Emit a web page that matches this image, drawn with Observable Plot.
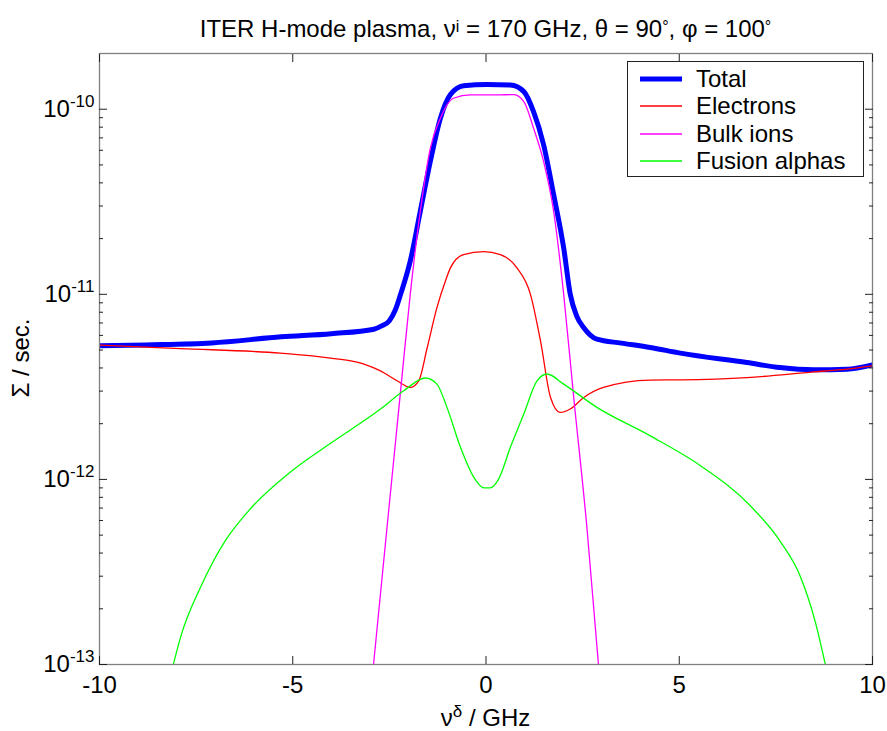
<!DOCTYPE html>
<html>
<head>
<meta charset="utf-8">
<script src="https://cdn.jsdelivr.net/npm/d3@7"></script>
<script src="https://cdn.jsdelivr.net/npm/@observablehq/plot@0.6"></script>
<style>
  html, body { margin: 0; padding: 0; background: #fff; }
  #wrap { position: relative; width: 887px; height: 731px; font-family: "Liberation Sans", Arial, Helvetica, sans-serif; color: #000; }
  #title { position: absolute; left: 99px; width: 773px; top: 15px; text-align: center; font-size: 24px; line-height: 28px; white-space: nowrap; }
  #title sup { font-size: 16px; position: relative; top: -5px; vertical-align: baseline; line-height: 0; }
  #legend { position: absolute; left: 627px; top: 61px; width: 237px; height: 116px; box-sizing: border-box; border: 1.3px solid #222; background: #fff; }
  .row { position: absolute; left: 0; height: 28px; display: flex; align-items: center; }
  .row svg { margin-left: 12px; }
  .row span { margin-left: 14px; font-size: 24px; }
  #chart svg { display: block; }
</style>
</head>
<body>
<div id="wrap">
  <div id="chart"></div>
  <div id="title">ITER H-mode plasma, ν<sup>i</sup> = 170 GHz, θ = 90<sup>°</sup>, φ = 100<sup>°</sup></div>
  <div id="legend"></div>
</div>
<script>
// ---- data (x in GHz, y in 1/sec) ----
const totalX = [-10, -8.8, -7.1, -5.3, -4.0, -2.9, -2.7, -2.5, -2.35, -2.21, -1.96, -1.70, -1.44, -1.18, -0.92, -0.58, 0.03, 0.63, 0.98, 1.23, 1.49, 1.75, 2.01, 2.18, 2.35, 2.53, 2.87, 3.5, 4.25, 5.03, 6.75, 7.61, 8.48, 9.34, 10];
const totalY = [5.27e-12, 5.33e-12, 5.46e-12, 5.89e-12, 6.13e-12, 6.48e-12, 6.75e-12, 7.2e-12, 8.2e-12, 1.0e-11, 1.51e-11, 2.81e-11, 5.23e-11, 8.94e-11, 1.20e-10, 1.34e-10, 1.36e-10, 1.35e-10, 1.245e-10, 9.7e-11, 6.43e-11, 3.46e-11, 1.78e-11, 1.0e-11, 7.6e-12, 6.6e-12, 5.72e-12, 5.45e-12, 5.16e-12, 4.81e-12, 4.28e-12, 4.02e-12, 3.91e-12, 3.94e-12, 4.16e-12];

const electronsX = [-10, -7.9, -5.32, -4.02, -3.16, -2.73, -2.3, -1.96, -1.74, -1.52, -1.27, -1.05, -0.92, -0.58, -0.06, 0.37, 0.80, 1.15, 1.41, 1.67, 1.92, 2.18, 2.53, 3.04, 4.25, 5.03, 6.75, 8.48, 9.34, 10];
const electronsY = [5.31e-12, 5.09e-12, 4.81e-12, 4.52e-12, 4.20e-12, 3.86e-12, 3.41e-12, 3.14e-12, 3.41e-12, 5.16e-12, 8.47e-12, 1.18e-11, 1.39e-11, 1.64e-11, 1.70e-11, 1.64e-11, 1.39e-11, 1.0e-11, 5.60e-12, 2.77e-12, 2.30e-12, 2.40e-12, 2.77e-12, 3.14e-12, 3.44e-12, 3.45e-12, 3.55e-12, 3.81e-12, 3.94e-12, 4.11e-12];

const ionsX = [-2.91, -2.56, -2.21, -1.96, -1.70, -1.44, -1.18, -0.84, -0.40, 0.29, 0.72, 0.98, 1.23, 1.49, 1.75, 2.01, 2.27, 2.61, 2.91];
const ionsY = [1e-13, 5.53e-13, 3.01e-12, 1.0e-11, 2.81e-11, 6.17e-11, 8.94e-11, 1.146e-10, 1.195e-10, 1.195e-10, 1.2e-10, 1.10e-10, 7.9e-11, 5.23e-11, 2.81e-11, 1.0e-11, 2.77e-12, 5.53e-13, 1e-13];

const alphasX = [-8.09, -7.9, -7.38, -6.74, -6.1, -5.06, -4.02, -2.73, -2.13, -1.57, -1.27, -1.01, -0.66, -0.32, -0.06, 0.11, 0.33, 0.63, 0.98, 1.32, 1.58, 2.01, 2.87, 4.25, 5.54, 6.84, 7.62, 8.13, 8.52, 8.78];
const alphasY = [1e-13, 1.41e-13, 2.63e-13, 4.68e-13, 6.92e-13, 1.096e-12, 1.567e-12, 2.40e-12, 3.01e-12, 3.53e-12, 3.27e-12, 2.45e-12, 1.49e-12, 1.03e-12, 9.01e-13, 9.01e-13, 1.007e-12, 1.49e-12, 2.26e-12, 3.41e-12, 3.71e-12, 3.27e-12, 2.45e-12, 1.72e-12, 1.19e-12, 7.2e-13, 4.6e-13, 3.0e-13, 1.7e-13, 1e-13];

const seriesNames = ["Total", "Electrons", "Bulk ions", "Fusion alphas"];
const seriesColors = ["#0000ff", "#ff0000", "#ff00ff", "#00ff00"];
const seriesWidths = [5, 1.3, 1.3, 1.3];
const seriesXs = [totalX, electronsX, ionsX, alphasX];
const seriesYs = [totalY, electronsY, ionsY, alphasY];

const xTicks = [-10, -5, 0, 5, 10];
const yMajorTicks = [1e-13, 1e-12, 1e-11, 1e-10];
const yMajorLabels = ["10^-13", "10^-12", "10^-11", "10^-10"];
const yMinorTicks = [];
for (const e of [-13, -12, -11]) for (const m of [2, 3, 4, 5, 6, 7, 8, 9]) yMinorTicks.push(m * Math.pow(10, e));

// ---- build plot ----
const lineMarks = seriesNames.map((name, k) => {
  const data = seriesXs[k].map((x, i) => ({x, y: seriesYs[k][i]}));
  return Plot.line(data, {x: "x", y: "y", stroke: seriesColors[k], strokeWidth: seriesWidths[k], curve: "monotone-x", clip: true});
});

const tickStroke = "#222";
const plot = Plot.plot({
  width: 887,
  height: 731,
  marginLeft: 99,
  marginRight: 15,
  marginTop: 53,
  marginBottom: 67,
  style: {fontFamily: '"Liberation Sans", Arial, Helvetica, sans-serif', fontSize: "24px", color: "#000", background: "#fff"},
  x: {domain: [-10, 10]},
  y: {type: "log", domain: [1e-13, 2e-10]},
  marks: [
    ...lineMarks,
    Plot.frame({stroke: "#808080", strokeWidth: 1.3}),
    Plot.axisX({anchor: "bottom", ticks: xTicks, tickSize: 8, dy: -8, text: null, label: null, stroke: tickStroke}),
    Plot.axisX({anchor: "top", ticks: xTicks, tickSize: 8, dy: 8, text: null, label: null, stroke: tickStroke}),
    Plot.axisX({anchor: "bottom", ticks: xTicks, tickSize: 0, tickPadding: 11, tickFormat: d => String(d), label: null, fontSize: 24}),
    Plot.axisY({anchor: "left", ticks: yMajorTicks, tickSize: 8, dx: 8, text: null, label: null, stroke: tickStroke}),
    Plot.axisY({anchor: "right", ticks: yMajorTicks, tickSize: 8, dx: -8, text: null, label: null, stroke: tickStroke}),
    Plot.axisY({anchor: "left", ticks: yMinorTicks, tickSize: 4, dx: 4, text: null, label: null, stroke: tickStroke}),
    Plot.axisY({anchor: "right", ticks: yMinorTicks, tickSize: 4, dx: -4, text: null, label: null, stroke: tickStroke}),
    Plot.axisY({anchor: "left", ticks: yMajorTicks, tickSize: 0, tickPadding: 5, tickFormat: d => yMajorLabels[yMajorTicks.indexOf(d)], label: null, fontSize: 24})
  ]
});

document.getElementById("chart").appendChild(plot);
const svg = d3.select(plot);

// superscript exponents in y tick labels
svg.selectAll('g[aria-label="y-axis tick label"] text').each(function() {
  const t = d3.select(this);
  const parts = t.text().split("^");
  if (parts.length !== 2) return;
  t.text(null);
  t.append("tspan").text(parts[0]);
  t.append("tspan").attr("dy", "-0.6em").attr("font-size", "17px").text(parts[1]);
});

// axis titles
svg.append("text")
  .attr("x", 485.5).attr("y", 726)
  .attr("text-anchor", "middle").attr("font-size", 24)
  .call(t => {
    t.append("tspan").text("ν");
    t.append("tspan").attr("dy", "-0.55em").attr("font-size", "17px").text("δ");
    t.append("tspan").attr("dy", "0.38em").text(" / GHz");
  });
svg.append("text")
  .attr("transform", "translate(29,358) rotate(-90)")
  .attr("text-anchor", "middle").attr("font-size", 24)
  .text("Σ / sec.");

// legend
const legend = document.getElementById("legend");
const rowCenters = [16.7, 44, 71.7, 99];
seriesNames.forEach((name, k) => {
  const row = document.createElement("div");
  row.className = "row";
  row.style.top = (rowCenters[k] - 14) + "px";
  row.innerHTML = `<svg width="42" height="8"><line x1="0" x2="42" y1="4" y2="4" stroke="${seriesColors[k]}" stroke-width="${k === 0 ? 5 : 1.5}"/></svg><span>${name}</span>`;
  legend.appendChild(row);
});
</script>
</body>
</html>
